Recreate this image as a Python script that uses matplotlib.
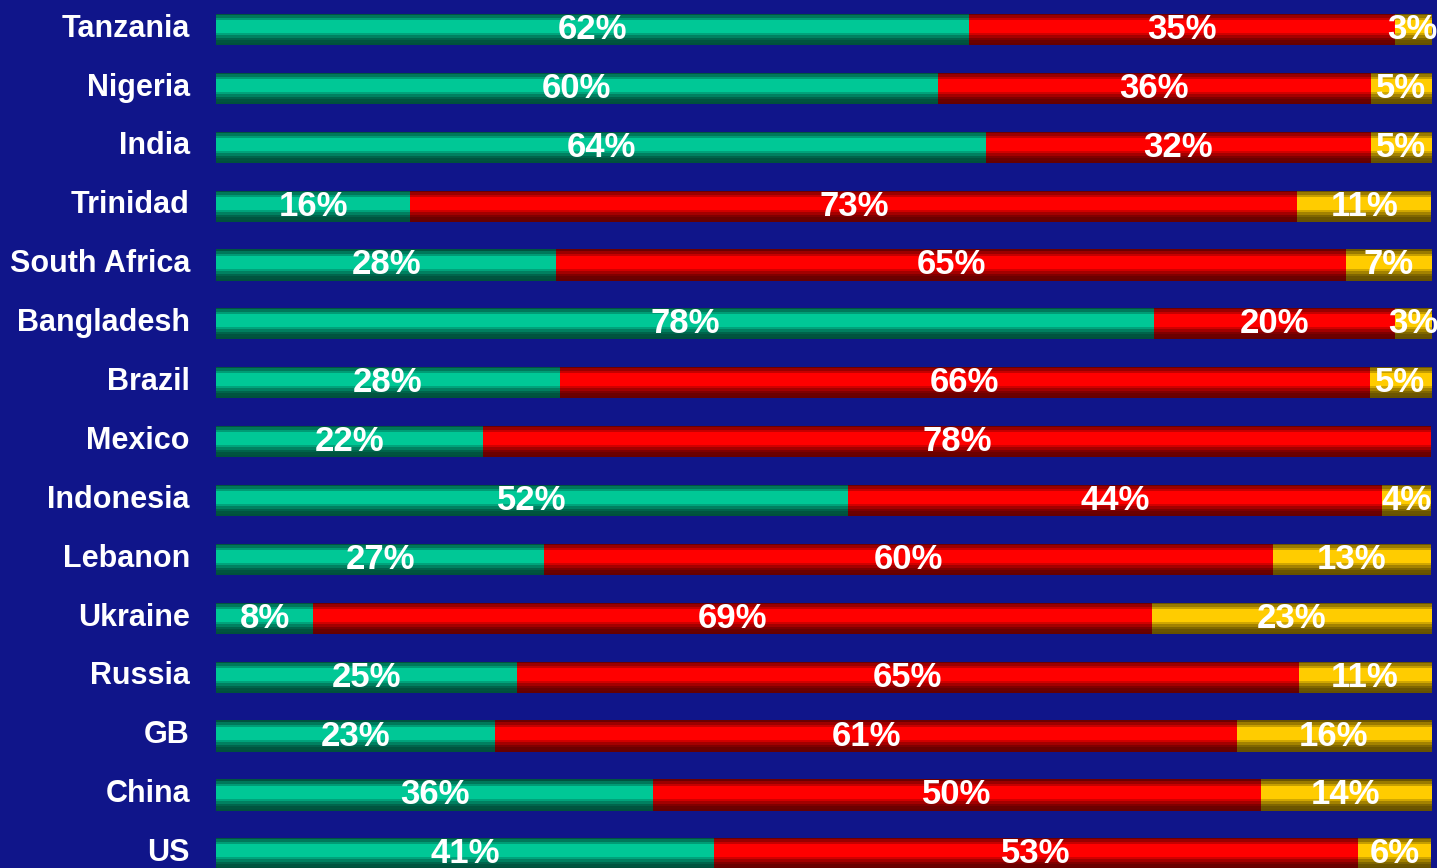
import numpy as np
import matplotlib
matplotlib.use('Agg')
import matplotlib.pyplot as plt
from matplotlib.colors import ListedColormap

countries = ['Tanzania', 'Nigeria', 'India', 'Trinidad', 'South Africa',
             'Bangladesh', 'Brazil', 'Mexico', 'Indonesia', 'Lebanon',
             'Ukraine', 'Russia', 'GB', 'China', 'US']
green = [62, 60, 64, 16, 28, 78, 28, 22, 52, 27, 8, 25, 23, 36, 41]
red = [35, 36, 32, 73, 65, 20, 66, 78, 44, 60, 69, 65, 61, 50, 53]
yellow = [3, 5, 5, 11, 7, 3, 5, 0, 4, 13, 23, 11, 16, 14, 6]

bg = '#10158a'
seg_colors = [(0, 200, 150), (255, 0, 0), (255, 204, 0)]

# stepped brightness across the bar height, top to bottom
shade = np.array([0.42, 0.6, 0.78, 1, 1, 1, 1, 1, 0.82, 0.64, 0.5, 0.42, 0.4])


def shaded_cmap(rgb):
    base = np.array(rgb) / 255.0
    cols = [tuple(base * s) for s in shade]
    return ListedColormap(cols)


plt.rcParams['font.family'] = ['Liberation Sans', 'DejaVu Sans']

fig = plt.figure(figsize=(14.37, 8.68), dpi=100, facecolor=bg)
ax = fig.add_axes([216 / 1437, 0, 1215 / 1437, 1])
ax.set_facecolor(bg)

y = np.arange(len(countries))
data = np.array([green, red, yellow], dtype=float)
shares = data / data.sum(axis=0)
grad = np.arange(len(shade)).reshape(-1, 1)

left = np.zeros(len(countries))
for k in range(3):
    bars = ax.barh(y, shares[k], left=left, height=0.53, color='none',
                   edgecolor='none')
    cmap = shaded_cmap(seg_colors[k])
    for i, b in enumerate(bars):
        if data[k, i] == 0:
            continue
        x0, x1 = left[i], left[i] + shares[k, i]
        im = ax.imshow(grad, cmap=cmap, aspect='auto', interpolation='nearest',
                       extent=(x0, x1, y[i] + 0.265, y[i] - 0.265), zorder=2)
        im.set_clip_path(b)
        ax.text((x0 + x1) / 2, y[i] + 0.16, f'{int(data[k, i])}%',
                ha='center', va='baseline', color='white', fontsize=25,
                fontweight='bold', zorder=3)
    left += shares[k]

# country names to the left of the bars
for i, name in enumerate(countries):
    ax.text(-0.0214, y[i] + 0.122, name, transform=ax.get_yaxis_transform(),
            ha='right', va='baseline', color='white', fontsize=22,
            fontweight='bold')

ax.set_xlim(0, 1)
ax.set_ylim(14.24, -0.5)
ax.set_xticks([])
ax.set_yticks([])
for s in ax.spines.values():
    s.set_visible(False)

fig.savefig('out.png', dpi=100, facecolor=bg)
